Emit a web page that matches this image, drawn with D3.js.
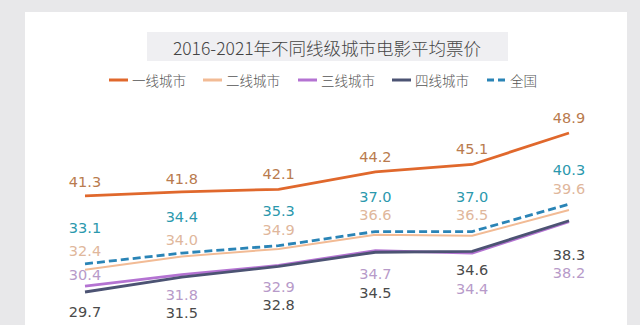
<!DOCTYPE html>
<html>
<head>
<meta charset="utf-8">
<script src="https://cdn.jsdelivr.net/npm/d3@7"></script>
<style>
  html, body { margin: 0; padding: 0; background: #e8e8ea; }
  svg { display: block; }
</style>
</head>
<body>
<div id="chart"></div>
<script>
// years on the x axis
var years = ["2016", "2017", "2018", "2019", "2020", "2021"];

// average ticket price by city tier
var tier1 = [41.3, 41.8, 42.1, 44.2, 45.1, 48.9];
var tier2 = [32.4, 34.0, 34.9, 36.6, 36.5, 39.6];
var tier3 = [30.4, 31.8, 32.9, 34.7, 34.4, 38.2];
var tier4 = [29.7, 31.5, 32.8, 34.5, 34.6, 38.3];
var national = [33.1, 34.4, 35.3, 37.0, 37.0, 40.3];

var seriesNames = ["一线城市", "二线城市", "三线城市", "四线城市", "全国"];

var width = 640,
  height = 325;

// styles per series (same order as seriesNames)
var lineColors = ["#e0682c", "#f2bb95", "#b473d2", "#4c5373", "#2a84b6"];
var labelColors = ["#b97b4e", "#dfb79c", "#b79ac9", "#4a4a4a", "#2b98ad"];
var dashes = [null, null, null, null, "8,4"];

// label nudges in px from the point (hand placed in the original)
var labelNudge = [
  [-14, -13, -15, -15, -15, -15],
  [-19, -16, -19, -20, -21, -21],
  [-11, 20, 21, 23, 36, 51],
  [20, 36, 39, 41, 19, 34],
  [-36, -36, -35, -35, -35, -34]
];

var allSeries = [tier1, tier2, tier3, tier4, national];

var x = d3.scalePoint().domain(years).range([85, 569]);
var y = d3.scaleLinear().domain([29.7, 48.9]).range([292, 133]);

var svg = d3.select("#chart").append("svg")
  .attr("width", width)
  .attr("height", height);

// white card
svg.append("rect")
  .attr("x", 25).attr("y", 12)
  .attr("width", 602).attr("height", 330)
  .attr("fill", "#ffffff");

// title box
svg.append("rect")
  .attr("x", 147).attr("y", 32)
  .attr("width", 361).attr("height", 29)
  .attr("fill", "#efeff2");

svg.append("text")
  .attr("x", 327).attr("y", 47)
  .attr("text-anchor", "middle")
  .attr("dominant-baseline", "central")
  .attr("font-family", "'Noto Sans CJK SC', sans-serif")
  .attr("font-weight", 300)
  .attr("font-size", 17.5)
  .attr("fill", "#444444")
  .text("2016-2021年不同线级城市电影平均票价");

// legend
var legendX = [109, 203, 298, 392, 487];
var legend = svg.append("g").attr("class", "legend");
seriesNames.forEach(function(name, i) {
  var g = legend.append("g").attr("transform", "translate(" + legendX[i] + ",80)");
  g.append("line")
    .attr("x1", 0).attr("x2", 19)
    .attr("y1", 0).attr("y2", 0)
    .attr("stroke", lineColors[i])
    .attr("stroke-width", 3)
    .attr("stroke-dasharray", i == 4 ? "7,4" : null);
  g.append("text")
    .attr("x", 23).attr("y", 0)
    .attr("dominant-baseline", "central")
    .attr("font-family", "'Noto Sans CJK SC', sans-serif")
    .attr("font-weight", 300)
    .attr("font-size", 13.5)
    .attr("fill", "#555555")
    .text(name);
});

var valueline = d3.line()
  .x(function(d, i) { return x(years[i]); })
  .y(function(d) { return y(d); });

// draw order: tier1, tier2, national, tier3, tier4
var drawOrder = [0, 1, 4, 2, 3];
drawOrder.forEach(function(i) {
  svg.append("path")
    .datum(allSeries[i])
    .attr("class", "line")
    .attr("fill", "none")
    .attr("stroke", lineColors[i])
    .attr("stroke-width", i == 1 ? 2 : 2.8)
    .attr("stroke-dasharray", dashes[i])
    .attr("d", valueline);
});

// data labels
allSeries.forEach(function(data, i) {
  svg.selectAll(".lbl" + i)
    .data(data)
    .enter().append("text")
    .attr("class", "lbl" + i)
    .attr("x", function(d, j) { return x(years[j]); })
    .attr("y", function(d, j) { return y(d) + labelNudge[i][j]; })
    .attr("text-anchor", "middle")
    .attr("dominant-baseline", "central")
    .attr("font-family", "'DejaVu Sans', sans-serif")
    .attr("font-size", 14.5)
    .attr("fill", labelColors[i])
    .text(function(d) { return d.toFixed(1); });
});
</script>
</body>
</html>
